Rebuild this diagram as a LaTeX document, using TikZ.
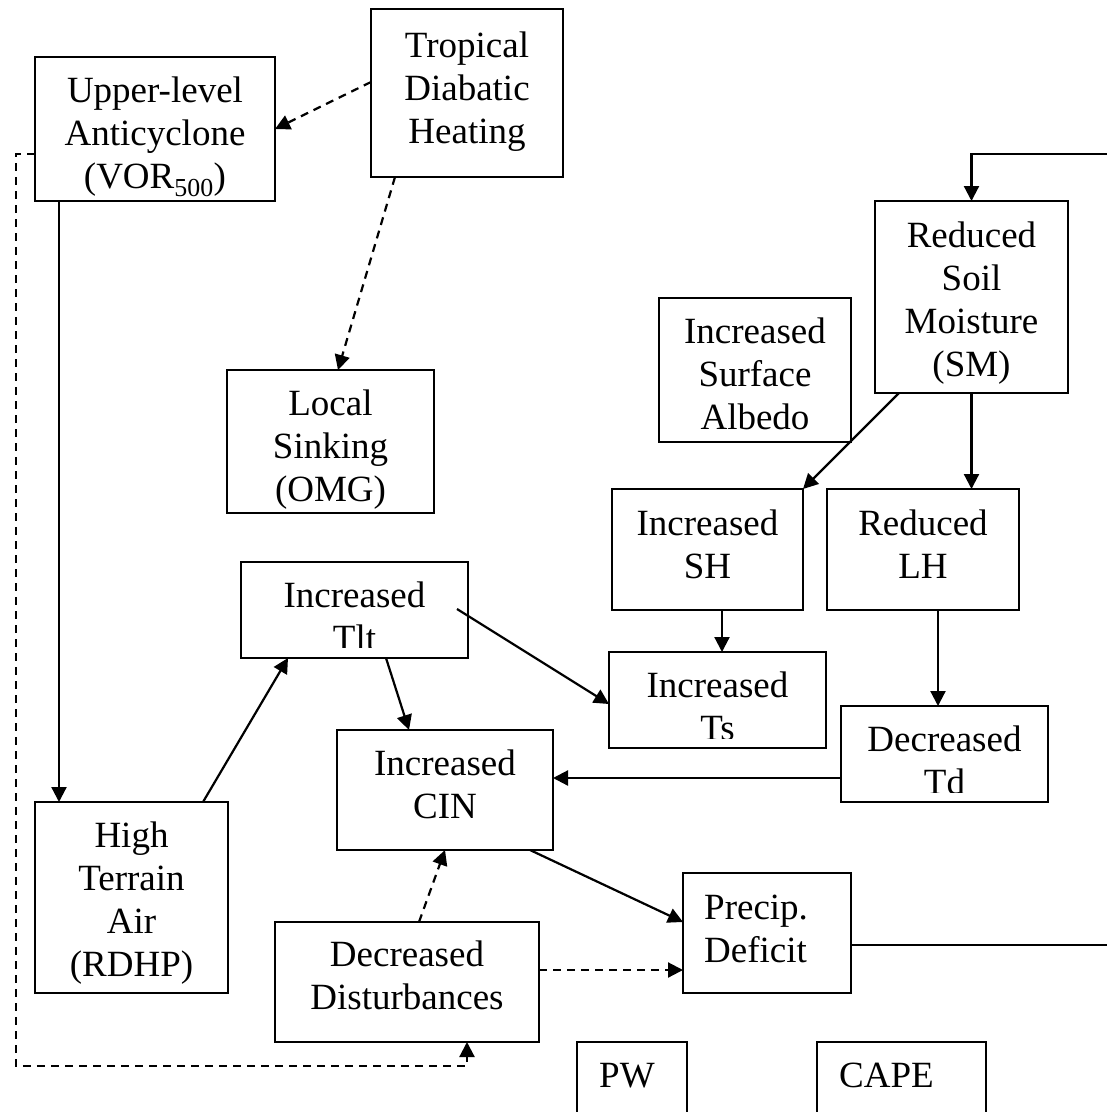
\documentclass[tikz,border=0pt]{standalone}
\usepackage{fontspec}
\setmainfont{Liberation Serif}
\usetikzlibrary{arrows.meta,calc}

\tikzset{
  box/.style={draw, line width=2.5pt, inner sep=0pt, outer sep=0pt},
  txt/.style={anchor=base, inner sep=0pt, font=\fontsize{37}{43}\selectfont},
  txtl/.style={txt, anchor=base west},
  link/.style={line width=2.2pt},
  conn/.style={link, -{Triangle[length=15pt,width=15pt]}},
  dsh/.style={dash pattern=on 8pt off 6pt},
}

% box from corner (x1,y1) to (x2,y2), in pixel-like units
\newcommand\mkbox[5]{%
  \node[box, minimum width={(#4-#2)*1pt}, minimum height={(#5-#3)*1pt}]
    (#1) at ({(#2+#4)/2},{(#3+#5)/2}) {};}
% stacked text lines: name, x, first baseline, list of lines
\newcommand\boxtext[5][txt]{%
  \foreach \ww [count=\i] in {#5} {\node[#1] (#2-\i) at (#3,{#4+43*(\i-1)}) {\ww};}}

\begin{document}
\begin{tikzpicture}[x=1pt, y=-1pt]
\useasboundingbox (0,0) rectangle (1107,1112);
\fill[white] (0,0) rectangle (1107,1112);

% boxes
\mkbox{anti}{35}{57}{275}{201}
\mkbox{trop}{371}{9}{563}{177}
\mkbox{sink}{227}{370}{434}{513}
\mkbox{sm}{875}{201}{1068}{393}
\mkbox{alb}{659}{298}{851}{442}
\mkbox{sh}{612}{489}{803}{610}
\mkbox{lh}{827}{489}{1019}{610}
\mkbox{tlt}{241}{562}{468}{658}
\mkbox{ts}{609}{652}{826}{748}
\mkbox{td}{841}{706}{1048}{802}
\mkbox{cin}{337}{730}{553}{850}
\mkbox{high}{35}{802}{228}{993}
\mkbox{dist}{275}{922}{539}{1042}
\mkbox{prec}{683}{873}{851}{993}
\mkbox{pw}{577}{1042}{687}{1140}
\mkbox{cape}{817}{1042}{986}{1140}

% box texts
\boxtext{antit}{155}{102}{Upper-level,Anticyclone,(VOR\textsubscript{500})}
\boxtext{tropt}{467}{57}{Tropical,Diabatic,Heating}
\boxtext{sinkt}{330.5}{415}{Local,Sinking,(OMG)}
\boxtext{smt}{971.5}{247}{Reduced,Soil,Moisture,(SM)}
\boxtext{albt}{755}{343}{Increased,Surface,Albedo}
\boxtext{sht}{707.5}{535}{Increased,SH}
\boxtext{lht}{923}{535}{Reduced,LH}
\begin{scope}
  \clip (241,562) rectangle (468,647);
  \boxtext{tltt}{354.5}{607}{Increased,Tlt}
\end{scope}
\begin{scope}
  \clip (609,652) rectangle (826,738);
  \boxtext{tst}{717.5}{697}{Increased,Ts}
\end{scope}
\begin{scope}
  \clip (841,706) rectangle (1048,792);
  \boxtext{tdt}{944.5}{751}{Decreased,Td}
\end{scope}
\boxtext{cint}{445}{775}{Increased,CIN}
\boxtext{hight}{131.5}{847}{High,Terrain,Air,(RDHP)}
\boxtext{distt}{407}{966}{Decreased,Disturbances}
\boxtext[txtl]{prect}{704}{919}{Precip.,Deficit}
\boxtext[txtl]{pwt}{599}{1087}{PW}
\boxtext[txtl]{capet}{839}{1087}{CAPE}

% loose ends running off the right edge
\coordinate (edgeT) at (1107,154);
\coordinate (edgeB) at (1107,945);

% connector end points set off from the box anchors
\coordinate (antiS) at ($(anti.south)+(-96,0)$);
\coordinate (antiW) at ($(anti.west)+(0,25)$);
\coordinate (distE) at ($(dist.east)+(0,-12)$);
\coordinate (distB) at ($(dist.south)+(60,0)$);
\coordinate (shS)   at ($(sh.south)+(14.5,0)$);
\coordinate (lhS)   at ($(lh.south)+(15,0)$);
\coordinate (tdW)   at ($(td.west)+(0,24)$);

% dashed links
\draw[conn,dsh] ($(trop.west)+(0,-11)$) -- (anti.east);
\draw[conn,dsh] ($(trop.south)+(-72,0)$) -- ($(sink.north)+(7.5,0)$);
\draw[conn,dsh] ($(dist.north)+(12,0)$) -- (cin.south);
\draw[conn,dsh] (distE) -- (distE -| prec.west);
\draw[conn,dsh] (antiW) -- ++(-19,0) |- ($(distB)+(0,24)$) -- (distB);

% solid links
\draw[conn] (antiS) -- (antiS |- high.north);
\draw[conn] ($(high.north)+(71.5,0)$) -- ($(tlt.south)+(-66.5,0)$);
\draw[conn] ($(tlt.south)+(31.5,0)$) -- ($(cin.north)+(-36,0)$);
\draw[conn] ($(tlt.east)+(-11,-1)$) -- ($(ts.west)+(0,4)$);
\draw[conn] ($(sm.south)+(-72.5,0)$) -- (sh.north east);
\draw[conn] (sm.south) -- (sm.south |- lh.north);
\draw[conn] (shS) -- (shS |- ts.north);
\draw[conn] (lhS) -- (lhS |- td.north);
\draw[conn] (tdW) -- (tdW -| cin.east);
\draw[conn] ($(cin.south)+(85,0)$) -- ($(prec.west)+(0,-11)$);
\draw[link] ($(prec.east)+(0,12)$) -- (edgeB);
\draw[conn] (edgeT) -| (sm.north);
\end{tikzpicture}
\end{document}
